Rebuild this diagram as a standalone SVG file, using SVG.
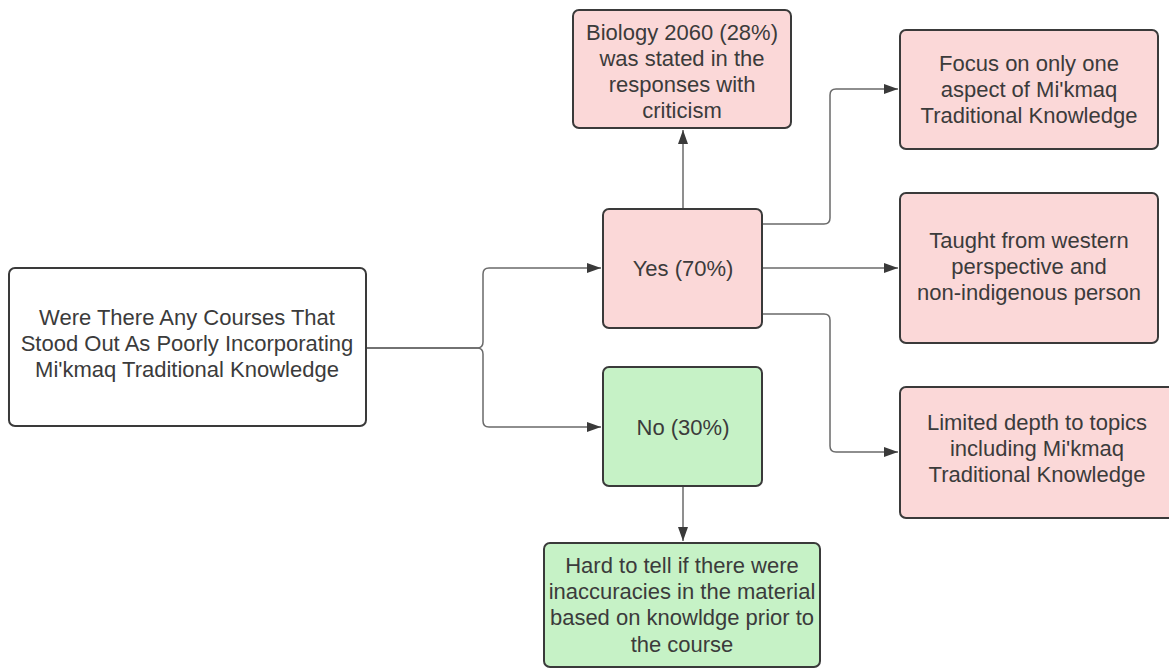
<svg xmlns="http://www.w3.org/2000/svg" width="1169" height="668" viewBox="0 0 1169 668">
<style>
.box{stroke:#3a3a3a;stroke-width:2}
.w{fill:#ffffff}
.p{fill:#fbd8d8}
.g{fill:#c6f2c6}
text{font-family:"Liberation Sans",Arial,sans-serif;font-size:22px;fill:#3b3b3b;text-anchor:middle}
.c{fill:none;stroke:#6a6a6a;stroke-width:1.5}
</style>
<defs>
<marker id="ah" viewBox="0 0 14 10" refX="14" refY="5" markerWidth="14" markerHeight="10" markerUnits="userSpaceOnUse" orient="auto">
<path d="M0,0 L14,5 L0,10 Z" fill="#3a3a3a"/>
</marker>
</defs>
<rect width="1169" height="668" fill="#ffffff"/>
<g id="connectors">
<path class="c" d="M366,348 H477 Q483,348 483,342 V274 Q483,268 489,268 H601" marker-end="url(#ah)"/>
<path class="c" d="M366,348 H477 Q483,348 483,354 V421 Q483,427 489,427 H601" marker-end="url(#ah)"/>
<path class="c" d="M683,209 V130" marker-end="url(#ah)"/>
<path class="c" d="M762,224 H824 Q830,224 830,218 V95 Q830,89 836,89 H898" marker-end="url(#ah)"/>
<path class="c" d="M762,268 H898" marker-end="url(#ah)"/>
<path class="c" d="M762,314 H824 Q830,314 830,320 V446 Q830,452 836,452 H898" marker-end="url(#ah)"/>
<path class="c" d="M683,486 V541" marker-end="url(#ah)"/>
</g>
<g id="root">
<rect class="box w" x="9" y="268" width="357" height="158" rx="6"/>
<text x="187" y="325">Were There Any Courses That</text>
<text x="187" y="351">Stood Out As Poorly Incorporating</text>
<text x="187" y="377">Mi'kmaq Traditional Knowledge</text>
</g>
<g id="yes">
<rect class="box p" x="603" y="209" width="159" height="119" rx="6"/>
<text x="683" y="276">Yes (70%)</text>
</g>
<g id="no">
<rect class="box g" x="603" y="367" width="159" height="119" rx="6"/>
<text x="683" y="435">No (30%)</text>
</g>
<g id="biology">
<rect class="box p" x="573" y="10" width="218" height="118" rx="6"/>
<text x="682" y="40">Biology 2060 (28%)</text>
<text x="682" y="66">was stated in the</text>
<text x="682" y="92">responses with</text>
<text x="682" y="118">criticism</text>
</g>
<g id="focus">
<rect class="box p" x="900" y="30" width="258" height="119" rx="6"/>
<text x="1029" y="71">Focus on only one</text>
<text x="1029" y="97">aspect of Mi'kmaq</text>
<text x="1029" y="123">Traditional Knowledge</text>
</g>
<g id="taught">
<rect class="box p" x="900" y="193" width="258" height="150" rx="6"/>
<text x="1029" y="248">Taught from western</text>
<text x="1029" y="274">perspective and</text>
<text x="1029" y="300">non-indigenous person</text>
</g>
<g id="limited">
<rect class="box p" x="900" y="387" width="274" height="131" rx="6"/>
<text x="1037" y="430">Limited depth to topics</text>
<text x="1037" y="456">including Mi'kmaq</text>
<text x="1037" y="482">Traditional Knowledge</text>
</g>
<g id="hard">
<rect class="box g" x="544" y="543" width="276" height="124" rx="6"/>
<text x="682" y="573">Hard to tell if there were</text>
<text x="682" y="599">inaccuracies in the material</text>
<text x="682" y="625">based on knowldge prior to</text>
<text x="682" y="652">the course</text>
</g>
</svg>
